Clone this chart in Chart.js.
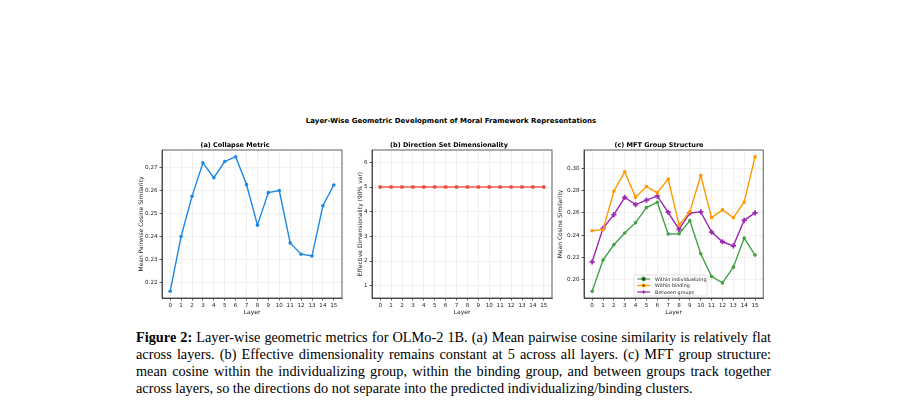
<!DOCTYPE html>
<html><head><meta charset="utf-8">
<script src="https://cdn.jsdelivr.net/npm/chart.js@4.4.1/dist/chart.umd.min.js"></script>
<style>
html,body{margin:0;padding:0;background:#fff;width:902px;height:418px;overflow:hidden;}
.box{position:absolute;}
#sup{position:absolute;left:0;width:902px;top:116px;text-align:center;font:bold 7px 'DejaVu Sans';color:#000;line-height:10px;}
#cap{position:absolute;left:136px;top:328.5px;width:635px;font:14.3px 'Liberation Serif';line-height:17px;color:#000;}
#cap div{text-align:justify;text-align-last:justify;white-space:nowrap;}
#cap div.last{text-align-last:left;}
</style>
</head><body>
<div id="sup">Layer-Wise Geometric Development of Moral Framework Representations</div>
<div class="box" style="left:128px;top:136px;width:218px;height:184px;"><canvas id="ca"></canvas></div>
<div class="box" style="left:346px;top:136px;width:210px;height:184px;"><canvas id="cb"></canvas></div>
<div class="box" style="left:554px;top:136px;width:215px;height:184px;"><canvas id="cc"></canvas></div>
<div id="cap">
<div><b>Figure 2:</b> Layer-wise geometric metrics for OLMo-2 1B. (a) Mean pairwise cosine similarity is relatively flat</div>
<div>across layers. (b) Effective dimensionality remains constant at 5 across all layers. (c) MFT group structure:</div>
<div>mean cosine within the individualizing group, within the binding group, and between groups track together</div>
<div class="last">across layers, so the directions do not separate into the predicted individualizing/binding clusters.</div>
</div>
<script>
const layers = [0,1,2,3,4,5,6,7,8,9,10,11,12,13,14,15];
const collapse = [0.2162,0.2400,0.2574,0.2719,0.2655,0.2725,0.2746,0.2625,0.2449,0.2590,0.2599,0.2372,0.2323,0.2315,0.2533,0.2623];
const effDim = [5,5,5,5,5,5,5,5,5,5,5,5,5,5,5,5];
const withinIndiv = [0.1898,0.2177,0.2314,0.2419,0.2512,0.2647,0.2695,0.2410,0.2413,0.2530,0.2234,0.2030,0.1973,0.2114,0.2374,0.2222];
const withinBind = [0.2440,0.2449,0.2793,0.2967,0.2740,0.2835,0.2778,0.2901,0.2491,0.2611,0.2934,0.2557,0.2626,0.2557,0.2695,0.3102];
const betweenGroups = [0.2162,0.2461,0.2584,0.2737,0.2674,0.2713,0.2749,0.2605,0.2452,0.2599,0.2608,0.2428,0.2341,0.2305,0.2533,0.2599];
const ticksA = [0.22,0.23,0.24,0.25,0.26,0.27];
const ticksB = [1,2,3,4,5,6];
const ticksC = [0.20,0.22,0.24,0.26,0.28,0.30];

const FONT = "'DejaVu Sans'";
const frame = {
  id:'frame',
  afterDraw(chart){
    const a = chart.chartArea, ctx = chart.ctx;
    ctx.save(); ctx.strokeStyle='#333'; ctx.lineWidth=0.8;
    ctx.strokeRect(a.left, a.top, a.right-a.left, a.bottom-a.top);
    ctx.restore();
  }
};
const innerLegend = {
  id:'innerLegend',
  afterDatasetsDraw(chart){
    const opts = chart.config.options.plugins.innerLegend;
    if(!opts) return;
    const a = chart.chartArea, ctx = chart.ctx;
    const w = 73, h = 21;
    const x0 = (a.left+a.right)/2 - w/2 - 3, y0 = a.bottom - 2 - h;
    ctx.save();
    ctx.fillStyle='rgba(255,255,255,0.85)'; ctx.strokeStyle='#d0d0d0'; ctx.lineWidth=0.6;
    ctx.beginPath(); ctx.roundRect(x0,y0,w,h,1.5); ctx.fill(); ctx.stroke();
    ctx.font = "4.8px " + FONT; ctx.textBaseline='middle'; ctx.fillStyle='#222';
    chart.data.datasets.forEach((ds,i)=>{
      const y = y0 + 4 + i*6.5;
      ctx.strokeStyle = ds.borderColor; ctx.lineWidth = 1.2;
      ctx.beginPath(); ctx.moveTo(x0+3,y); ctx.lineTo(x0+16,y); ctx.stroke();
      Chart.helpers.drawPoint(ctx,{pointStyle:ds.pointStyle,radius:1.8,borderWidth:ds.pointBorderWidth||1,rotation:0},x0+9.5,y);
      ctx.fillStyle='#222';
      ctx.fillText(ds.label, x0+21, y+0.3);
    });
    ctx.restore();
  }
};

function make(id, datasets, ymin, ymax, yticks, yfmt, ytitle, title, yw, ytPad, padR, extra){
  const c = new Chart(document.getElementById(id), {
    type:'line',
    data:{datasets},
    options:{
      responsive:true, maintainAspectRatio:false, animation:false,
      layout:{padding:{left:0,right:padR,top:0,bottom:0}},
      plugins:{
        legend:{display:false}, tooltip:{enabled:false},
        title:{display:true,text:title,color:'#000',font:{family:FONT,size:6.5,weight:'bold'},padding:{top:5.8,bottom:0.4}},
        innerLegend: extra||null
      },
      scales:{
        x:{type:'linear',min:-0.75,max:15.75,
          afterBuildTicks:s=>{s.ticks=layers.map(v=>({value:v}));},
          afterFit:s=>{s.height=22;},
          ticks:{autoSkip:false,maxRotation:0,color:'#222',font:{family:FONT,size:5.6},padding:1.5,callback:v=>String(v)},
          grid:{color:'#e8e8e8',lineWidth:0.6,tickLength:2.5,tickColor:'#333',tickWidth:0.8},
          border:{display:true,color:'#333',width:0.8},
          title:{display:true,text:'Layer',color:'#222',font:{family:FONT,size:6},padding:{top:0,bottom:3.7}}
        },
        y:{type:'linear',min:ymin,max:ymax,
          afterBuildTicks:s=>{s.ticks=yticks.map(v=>({value:v}));},
          afterFit:s=>{s.width=yw;},
          ticks:{color:'#222',font:{family:FONT,size:5.6},padding:2,callback:yfmt},
          grid:{color:'#e8e8e8',lineWidth:0.6,tickLength:2.5,tickColor:'#333',tickWidth:0.8},
          border:{display:true,color:'#333',width:0.8},
          title:{display:true,text:ytitle,color:'#222',font:{family:FONT,size:6},padding:{top:ytPad,bottom:0}}
        }
      }
    },
    plugins:[frame, innerLegend]
  });
  return c;
}
const pts = arr => arr.map((v,i)=>({x:layers[i],y:v}));

make('ca', [{label:'Collapse',data:pts(collapse),borderColor:'#1E88E5',backgroundColor:'#1E88E5',borderWidth:1.4,pointRadius:1.8,pointStyle:'circle',pointBorderWidth:0}],
  0.2133,0.2775,ticksA,v=>v.toFixed(2),'Mean Pairwise Cosine Similarity','(a) Collapse Metric',34,10,4);

make('cb', [{label:'Effective dimensionality',data:pts(effDim),borderColor:'rgba(244,67,54,0.65)',backgroundColor:'#F04438',borderWidth:2,pointRadius:2.3,pointStyle:'rect',pointBorderWidth:0}],
  0.5,6.5,ticksB,v=>String(v),'Effective Dimensionality (90% var)','(b) Direction Set Dimensionality',26,11,4);

make('cc', [
  {label:'Within individualizing',data:pts(withinIndiv),borderColor:'#43A047',backgroundColor:'#43A047',borderWidth:1.4,pointRadius:1.8,pointStyle:'circle',pointBorderWidth:0},
  {label:'Within binding',data:pts(withinBind),borderColor:'#FF9800',backgroundColor:'#FF9800',borderWidth:1.4,pointRadius:2.2,pointStyle:'rect',pointBorderWidth:0},
  {label:'Between groups',data:pts(betweenGroups),borderColor:'#9C27B0',backgroundColor:'#9C27B0',borderWidth:1.4,pointRadius:2.6,pointStyle:'cross',pointBorderWidth:1.8}
], 0.1838,0.3162,ticksC,v=>v.toFixed(2),'Mean Cosine Similarity','(c) MFT Group Structure',30,3,5,{on:true});
</script>
</body></html>
